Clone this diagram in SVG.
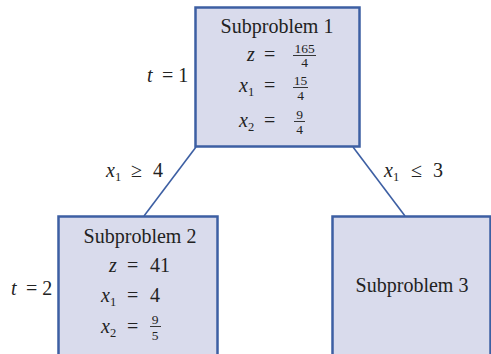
<svg xmlns="http://www.w3.org/2000/svg" width="491" height="354" viewBox="0 0 491 354">
<style>
.box{fill:#d9dbec;stroke:#3d5fa3;stroke-width:2.5}
.edge{stroke:#3d5fa3;stroke-width:1.6;fill:none}
text{font-family:'Liberation Serif','DejaVu Serif',serif;fill:#222;font-size:20px}
.v{font-style:italic}
.sub{font-size:12.5px}
.fr{font-size:13.5px}
.bar{stroke:#222;stroke-width:0.9}
</style>
<rect width="491" height="354" fill="#fff"/>
<g id="connectors">
<line class="edge" x1="196" y1="147" x2="144" y2="216"/>
<line class="edge" x1="353" y1="147" x2="405" y2="216"/>
</g>
<g id="node1">
<rect class="box" x="195.5" y="7.5" width="164" height="139"/>
<text x="277" y="33" text-anchor="middle">Subproblem 1</text>
<text class="v" x="247" y="61">z</text><text x="264" y="61">=</text>
<text class="fr" x="304.5" y="53" text-anchor="middle">165</text>
<line class="bar" x1="293" y1="55.5" x2="316" y2="55.5"/>
<text class="fr" x="304.5" y="67" text-anchor="middle">4</text>
<text class="v" x="239" y="92">x</text><text class="sub" x="248" y="96">1</text><text x="264" y="92">=</text>
<text class="fr" x="300.5" y="85" text-anchor="middle">15</text>
<line class="bar" x1="293" y1="87.5" x2="308" y2="87.5"/>
<text class="fr" x="300.5" y="100" text-anchor="middle">4</text>
<text class="v" x="239" y="127">x</text><text class="sub" x="248" y="131">2</text><text x="264" y="127">=</text>
<text class="fr" x="299.5" y="119" text-anchor="middle">9</text>
<line class="bar" x1="294" y1="121.5" x2="305" y2="121.5"/>
<text class="fr" x="299.5" y="134" text-anchor="middle">4</text>
</g>
<g id="label-t1"><text class="v" x="147" y="82">t</text><text x="162" y="82">= 1</text></g>
<g id="label-left"><text class="v" x="106" y="177">x</text><text class="sub" x="115" y="181">1</text><text x="131" y="177">≥</text><text x="153" y="177">4</text></g>
<g id="label-right"><text class="v" x="384" y="177">x</text><text class="sub" x="393" y="181">1</text><text x="411" y="177">≤</text><text x="433" y="177">3</text></g>
<g id="node2">
<rect class="box" x="58.5" y="216.5" width="159" height="145"/>
<text x="140" y="243" text-anchor="middle">Subproblem 2</text>
<text class="v" x="109" y="272">z</text><text x="127" y="272">=</text><text x="150" y="272">41</text>
<text class="v" x="101" y="302">x</text><text class="sub" x="110" y="306">1</text><text x="127" y="302">=</text><text x="150" y="302">4</text>
<text class="v" x="101" y="333">x</text><text class="sub" x="110" y="337">2</text><text x="127" y="333">=</text>
<text class="fr" x="155" y="324" text-anchor="middle">9</text>
<line class="bar" x1="150" y1="326.5" x2="161" y2="326.5"/>
<text class="fr" x="155" y="340" text-anchor="middle">5</text>
</g>
<g id="label-t2"><text class="v" x="11" y="295">t</text><text x="26" y="295">= 2</text></g>
<g id="node3">
<rect class="box" x="332.5" y="216.5" width="158" height="145"/>
<text x="412" y="292" text-anchor="middle">Subproblem 3</text>
</g>
</svg>
